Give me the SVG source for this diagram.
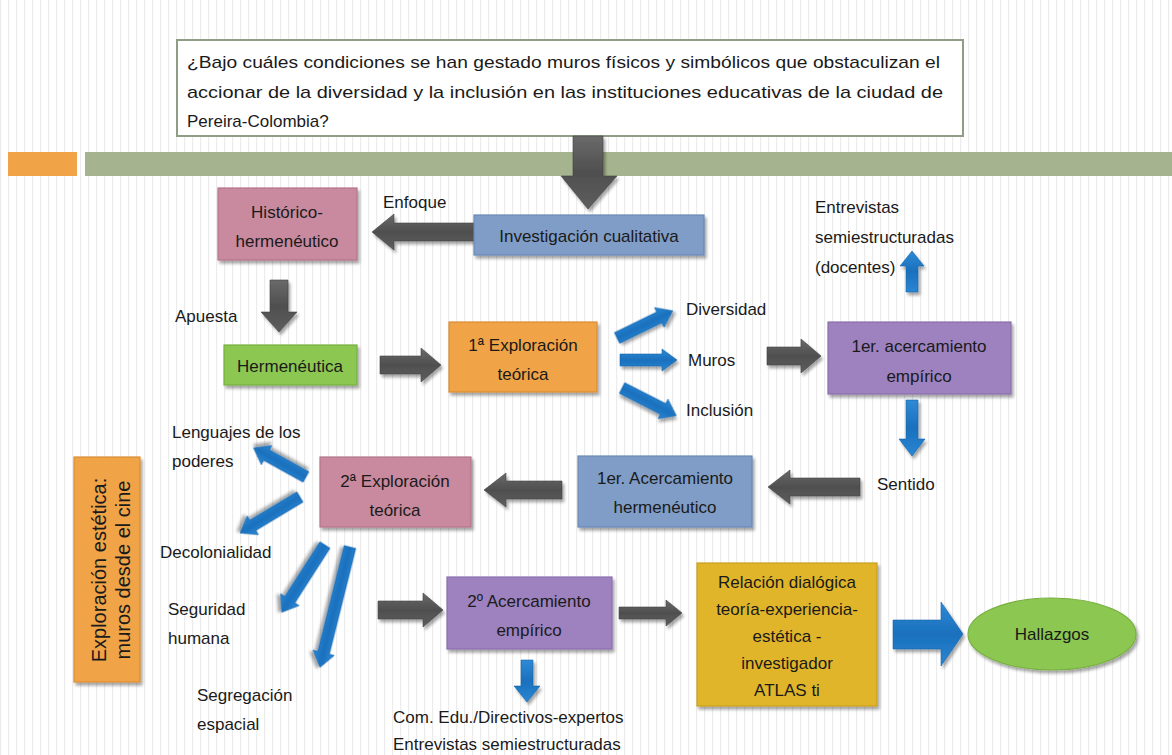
<svg xmlns="http://www.w3.org/2000/svg" width="1172" height="755" viewBox="0 0 1172 755">
  <defs>
    <pattern id="stripes" width="8" height="10" patternUnits="userSpaceOnUse">
      <rect width="8" height="10" fill="#ffffff"/>
      <rect x="0" y="0" width="1.2" height="10" fill="#ececec"/>
    </pattern>
    <filter id="shadow" x="-10%" y="-10%" width="125%" height="130%">
      <feDropShadow dx="2" dy="3" stdDeviation="1.8" flood-color="#000" flood-opacity="0.35"/>
    </filter>
    <linearGradient id="greyV" x1="0" y1="0" x2="0" y2="1">
      <stop offset="0" stop-color="#6a6a6a"/>
      <stop offset="0.5" stop-color="#4f4f4f"/>
      <stop offset="1" stop-color="#5e5e5e"/>
    </linearGradient>
    <linearGradient id="blueV" x1="0" y1="0" x2="0" y2="1">
      <stop offset="0" stop-color="#2f8ad6"/>
      <stop offset="0.5" stop-color="#1a70bd"/>
      <stop offset="1" stop-color="#2a86d2"/>
    </linearGradient>
  </defs>
  <style>
    text { font-family: "Liberation Sans", Arial, sans-serif; fill: #1a1a1a; }
    .lbl { font-size: 17px; }
    .box { font-size: 17px; text-anchor: middle; }
    .node { stroke-width: 1.2; filter: url(#shadow); }
    .pink { fill: #c98a9f; stroke: #b57289; }
    .blue { fill: #7f9dc6; stroke: #6888b4; }
    .green { fill: #8cc751; stroke: #77b03f; }
    .orange { fill: #f0a347; stroke: #d98d33; }
    .purple { fill: #9d82bf; stroke: #8a6eae; }
    .yellow { fill: #e0b52b; stroke: #c99f1e; }
    .garrow { fill: url(#greyV); stroke: #444; stroke-width: 0.6; filter: url(#shadow); }
    .barrow { fill: url(#blueV); stroke: #1664aa; stroke-width: 0.6; filter: url(#shadow); }
  </style>

  <!-- background -->
  <rect width="1172" height="755" fill="url(#stripes)"/>

  <!-- header bars -->
  <rect x="8" y="152" width="69" height="24" fill="#f0a347"/>
  <rect x="85" y="152" width="1087" height="24" fill="#a5b38f"/>

  <!-- research question -->
  <g id="question">
    <rect x="177" y="40" width="786" height="96" fill="#ffffff" stroke="#8f9c86" stroke-width="2"/>
    <text class="lbl" x="187" y="68" textLength="753" lengthAdjust="spacingAndGlyphs">¿Bajo cuáles condiciones se han gestado muros físicos y simbólicos que obstaculizan el</text>
    <text class="lbl" x="187" y="98" textLength="756" lengthAdjust="spacingAndGlyphs">accionar de la diversidad y la inclusión en las instituciones educativas de la ciudad de</text>
    <text class="lbl" x="187" y="127">Pereira-Colombia?</text>
  </g>

  <!-- connectors -->
  <g id="connectors">
    <!-- question to investigation -->
    <polygon class="garrow" points="573,136 603,136 603,176 617,176 588,209 561,176 573,176"/>
    <!-- Enfoque -->
    <polygon class="garrow" points="474,223 394,223 394,214 372,232 394,250 394,241 474,241"/>
    <!-- Apuesta -->
    <polygon class="garrow" points="270,280 288,280 288,312 297,312 279,332 261,312 270,312"/>
    <!-- Hermenéutica to 1ª Exploración -->
    <polygon class="garrow" points="380,356 421,356 421,348 441,365 421,382 421,374 380,374"/>
    <!-- Muros to 1er acercamiento -->
    <polygon class="garrow" points="767,347 801,347 801,339 821,356 801,373 801,365 767,365"/>
    <!-- Sentido to 1er Acercamiento hermenéutico -->
    <polygon class="garrow" points="860,478 790,478 790,470 768,487 790,504 790,496 860,496"/>
    <!-- 1er Acercamiento hermenéutico to 2ª Exploración -->
    <polygon class="garrow" points="562,481 506,481 506,473 484,490 506,507 506,499 562,499"/>
    <!-- to 2º Acercamiento -->
    <polygon class="garrow" points="378,601 423,601 423,593 443,610 423,627 423,619 378,619"/>
    <!-- 2º Acercamiento to relación dialógica -->
    <polygon class="garrow" points="619,607 666,607 666,600 682,613 666,626 666,619 619,619"/>

    <!-- blue arrows -->
    <polygon class="barrow" points="906,292 918,292 918,266 924,266 912,251 900,266 906,266"/>
    <polygon class="barrow" points="906,400 918,400 918,439 925,439 912,456 899,439 906,439"/>
    <polygon class="barrow" points="521,660 533,660 533,686 540,686 527,702 514,686 521,686"/>
    <!-- from 1ª Exploración -->
    <polygon class="barrow" transform="translate(617,338) rotate(-26)" points="0,-6 47,-6 47,-11 62,0 47,11 47,6 0,6"/>
    <polygon class="barrow" transform="translate(620,360)" points="0,-6 42,-6 42,-11 57,0 42,11 42,6 0,6"/>
    <polygon class="barrow" transform="translate(622,388) rotate(27)" points="0,-6 46,-6 46,-11 61,0 46,11 46,6 0,6"/>
    <!-- from 2ª Exploración -->
    <polygon class="barrow" transform="translate(306,477) rotate(-151)" points="0,-6 45,-6 45,-11 60,0 45,11 45,6 0,6"/>
    <polygon class="barrow" transform="translate(300,497) rotate(149)" points="0,-6 55,-6 55,-11 70,0 55,11 55,6 0,6"/>
    <polygon class="barrow" transform="translate(325,545) rotate(122.7)" points="0,-6 65,-6 65,-11 80,0 65,11 65,6 0,6"/>
    <polygon class="barrow" transform="translate(350,547) rotate(104)" points="0,-6 109,-6 109,-11 124,0 109,11 109,6 0,6"/>
    <!-- to Hallazgos -->
    <polygon class="barrow" points="893,620 941,620 941,602 963,634 941,666 941,649 893,649"/>
  </g>

  <!-- free labels -->
  <g id="labels">
    <text class="lbl" x="383" y="208">Enfoque</text>
    <text class="lbl" x="815" y="213">Entrevistas</text>
    <text class="lbl" x="815" y="243">semiestructuradas</text>
    <text class="lbl" x="815" y="273">(docentes)</text>
    <text class="lbl" x="175" y="322">Apuesta</text>
    <text class="lbl" x="686" y="315">Diversidad</text>
    <text class="lbl" x="688" y="366">Muros</text>
    <text class="lbl" x="686" y="416">Inclusión</text>
    <text class="lbl" x="877" y="490">Sentido</text>
    <text class="lbl" x="172" y="438">Lenguajes de los</text>
    <text class="lbl" x="172" y="467">poderes</text>
    <text class="lbl" x="160" y="558">Decolonialidad</text>
    <text class="lbl" x="168" y="615">Seguridad</text>
    <text class="lbl" x="168" y="644">humana</text>
    <text class="lbl" x="197" y="701">Segregación</text>
    <text class="lbl" x="197" y="730">espacial</text>
    <text class="lbl" x="393" y="723">Com. Edu./Directivos-expertos</text>
    <text class="lbl" x="393" y="750">Entrevistas semiestructuradas</text>
  </g>

  <!-- nodes -->
  <g id="historico">
    <rect class="node pink" x="218" y="188" width="139" height="72"/>
    <text class="box" x="287" y="218">Histórico-</text>
    <text class="box" x="287" y="247">hermenéutico</text>
  </g>
  <g id="investigacion">
    <rect class="node blue" x="474" y="215" width="230" height="40"/>
    <text class="box" x="589" y="242">Investigación cualitativa</text>
  </g>
  <g id="hermeneutica">
    <rect class="node green" x="224" y="345" width="133" height="40"/>
    <text class="box" x="290" y="372">Hermenéutica</text>
  </g>
  <g id="exploracion1">
    <rect class="node orange" x="449" y="322" width="148" height="70"/>
    <text class="box" x="523" y="351">1ª Exploración</text>
    <text class="box" x="523" y="380">teórica</text>
  </g>
  <g id="acercamiento-empirico1">
    <rect class="node purple" x="828" y="322" width="183" height="72"/>
    <text class="box" x="919" y="352">1er. acercamiento</text>
    <text class="box" x="919" y="382">empírico</text>
  </g>
  <g id="acercamiento-hermeneutico">
    <rect class="node blue" x="578" y="456" width="174" height="71"/>
    <text class="box" x="665" y="484">1er. Acercamiento</text>
    <text class="box" x="665" y="513">hermenéutico</text>
  </g>
  <g id="exploracion2">
    <rect class="node pink" x="320" y="457" width="151" height="70"/>
    <text class="box" x="395" y="487">2ª Exploración</text>
    <text class="box" x="395" y="516">teórica</text>
  </g>
  <g id="exploracion-estetica">
    <rect class="node orange" x="74" y="457" width="66" height="225"/>
    <text x="106" y="570" font-size="20" text-anchor="middle" transform="rotate(-90 106 570)">Exploración estética:</text>
    <text x="130" y="570" font-size="20" text-anchor="middle" transform="rotate(-90 130 570)">muros desde el cine</text>
  </g>
  <g id="acercamiento-empirico2">
    <rect class="node purple" x="447" y="577" width="165" height="72"/>
    <text class="box" x="529" y="607">2º Acercamiento</text>
    <text class="box" x="529" y="636">empírico</text>
  </g>
  <g id="relacion-dialogica">
    <rect class="node yellow" x="697" y="563" width="180" height="143"/>
    <text class="box" x="787" y="588" font-size="16">Relación dialógica</text>
    <text class="box" x="787" y="615" font-size="16">teoría-experiencia-</text>
    <text class="box" x="787" y="642" font-size="16">estética -</text>
    <text class="box" x="787" y="669" font-size="16">investigador</text>
    <text class="box" x="787" y="696" font-size="16">ATLAS ti</text>
  </g>
  <g id="hallazgos">
    <ellipse class="node green" cx="1052" cy="634" rx="84" ry="36"/>
    <text class="box" x="1052" y="640">Hallazgos</text>
  </g>
</svg>
